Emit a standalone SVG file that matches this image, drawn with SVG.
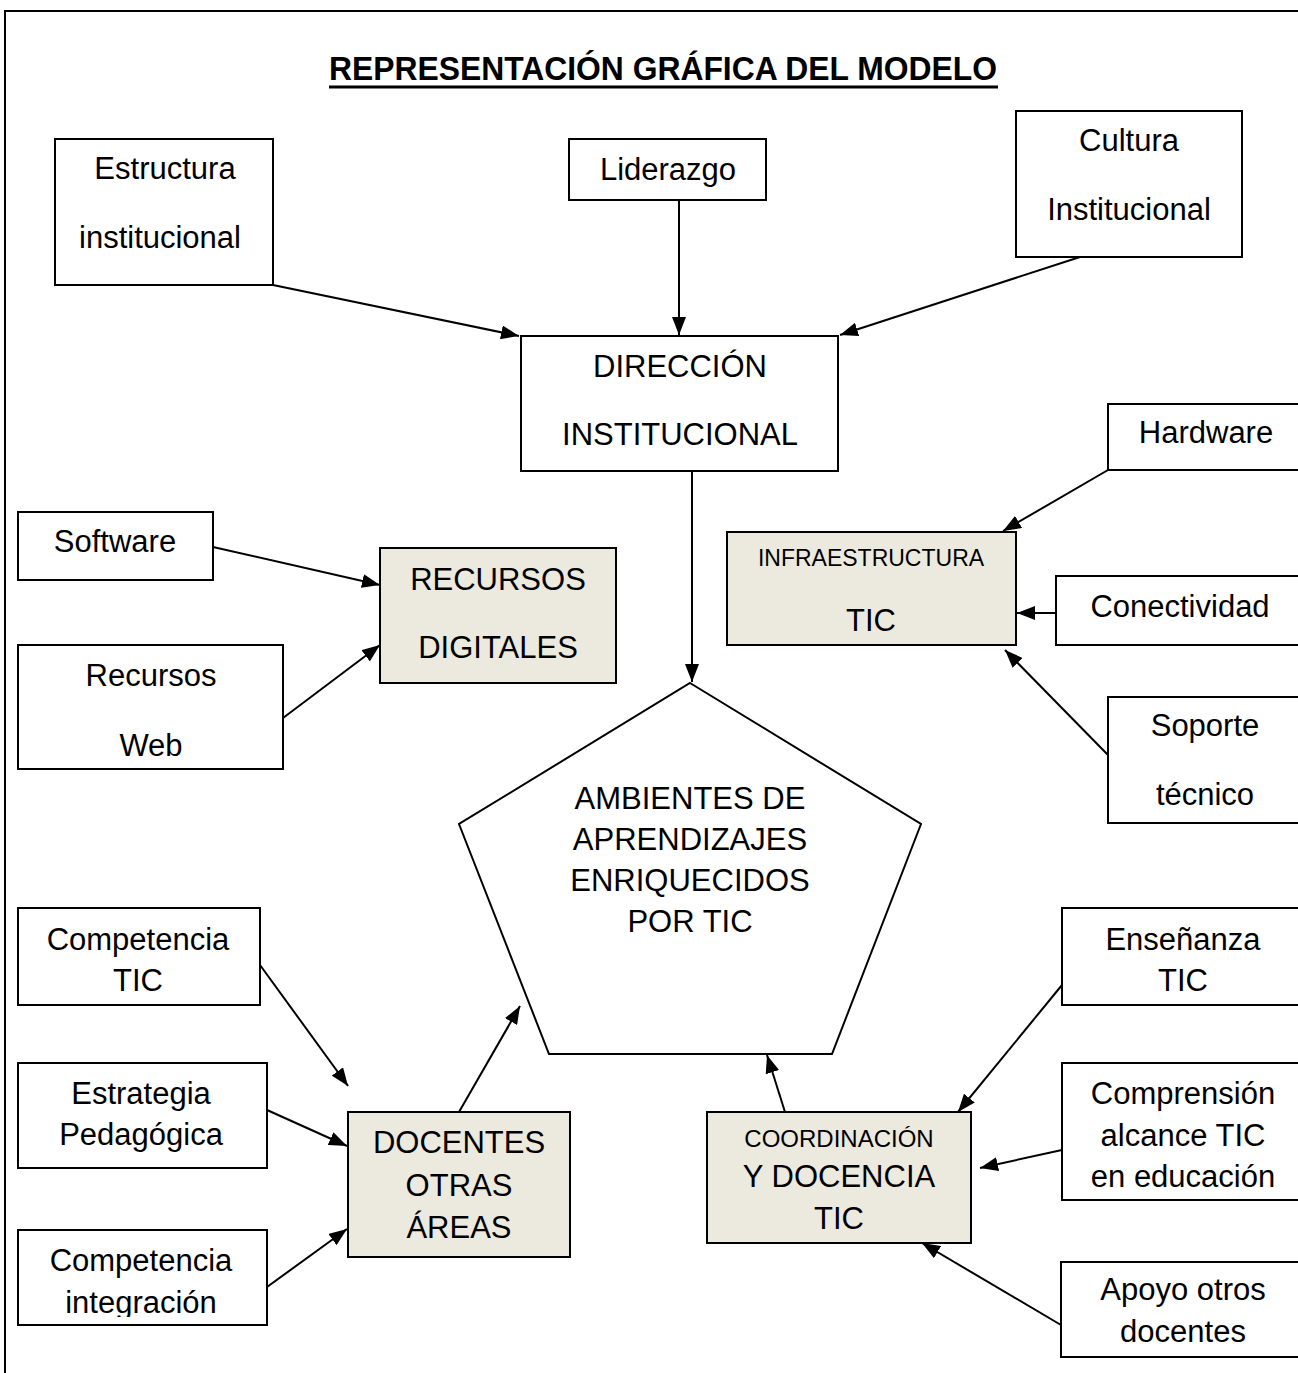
<svg xmlns="http://www.w3.org/2000/svg" width="1298" height="1373" viewBox="0 0 1298 1373">
<style>
.box{fill:#fff;stroke:#000;stroke-width:2}
.key{fill:#ECE9DF;stroke:#000;stroke-width:2}
.t{font-family:"Liberation Sans",Arial,sans-serif;font-size:31px;fill:#000;text-anchor:middle}
.s{font-size:23px}
.c{stroke:#000;stroke-width:2;fill:none;marker-end:url(#arr)}
</style>
<defs>
<marker id="arr" markerUnits="userSpaceOnUse" markerWidth="20" markerHeight="14" refX="18" refY="7" orient="auto">
<path d="M0,0 L18,7 L0,14 z" fill="#000"/>
</marker>
<clipPath id="clipInt"><rect x="18" y="1230" width="249" height="87"/></clipPath>
</defs>
<rect width="1298" height="1373" fill="#fff"/>
<g id="frame">
<path d="M5,1373 L5,11 L1298,11" fill="none" stroke="#000" stroke-width="2"/>
</g>
<g id="title">
<text x="663" y="80" class="t" style="font-weight:bold;font-size:33px" textLength="668" lengthAdjust="spacingAndGlyphs">REPRESENTACIÓN GRÁFICA DEL MODELO</text>
<line x1="329" y1="87" x2="998" y2="87" stroke="#000" stroke-width="3"/>
</g>
<g id="connectors">
<line class="c" x1="273" y1="285" x2="519" y2="336"/>
<line class="c" x1="679" y1="200" x2="679" y2="335"/>
<line class="c" x1="1080" y1="257" x2="840" y2="335"/>
<line class="c" x1="692" y1="471" x2="692" y2="682"/>
<line class="c" x1="213" y1="547" x2="380" y2="585"/>
<line class="c" x1="283" y1="718" x2="380" y2="645"/>
<line class="c" x1="1108" y1="470" x2="1003" y2="531"/>
<line class="c" x1="1056" y1="613" x2="1017" y2="613"/>
<line class="c" x1="1108" y1="755" x2="1005" y2="650"/>
<line class="c" x1="260" y1="965" x2="348" y2="1086"/>
<line class="c" x1="267" y1="1110" x2="347" y2="1146"/>
<line class="c" x1="267" y1="1287" x2="347" y2="1229"/>
<line class="c" x1="459" y1="1112" x2="520" y2="1006"/>
<line class="c" x1="785" y1="1112" x2="767" y2="1055"/>
<line class="c" x1="1062" y1="985" x2="958" y2="1112"/>
<line class="c" x1="1062" y1="1150" x2="980" y2="1168"/>
<line class="c" x1="1061" y1="1325" x2="922" y2="1243"/>
</g>
<g id="estructura">
<rect class="box" x="55" y="139" width="218" height="146"/>
<text class="t" x="165" y="179">Estructura</text>
<text class="t" x="160" y="248">institucional</text>
</g>
<g id="liderazgo">
<rect class="box" x="569" y="139" width="197" height="61"/>
<text class="t" x="668" y="180">Liderazgo</text>
</g>
<g id="cultura">
<rect class="box" x="1016" y="111" width="226" height="146"/>
<text class="t" x="1129" y="151">Cultura</text>
<text class="t" x="1129" y="220">Institucional</text>
</g>
<g id="direccion">
<rect class="box" x="521" y="336" width="317" height="135"/>
<text class="t" x="680" y="377">DIRECCIÓN</text>
<text class="t" x="680" y="445">INSTITUCIONAL</text>
</g>
<g id="hardware">
<rect class="box" x="1108" y="404" width="210" height="66"/>
<text class="t" x="1206" y="443">Hardware</text>
</g>
<g id="infraestructura">
<rect class="key" x="727" y="532" width="289" height="113"/>
<text class="t s" x="871" y="566">INFRAESTRUCTURA</text>
<text class="t" x="871" y="631">TIC</text>
</g>
<g id="conectividad">
<rect class="box" x="1056" y="576" width="262" height="69"/>
<text class="t" x="1180" y="617">Conectividad</text>
</g>
<g id="soporte">
<rect class="box" x="1108" y="697" width="210" height="126"/>
<text class="t" x="1205" y="736">Soporte</text>
<text class="t" x="1205" y="805">técnico</text>
</g>
<g id="software">
<rect class="box" x="18" y="512" width="195" height="68"/>
<text class="t" x="115" y="552">Software</text>
</g>
<g id="recursosweb">
<rect class="box" x="18" y="645" width="265" height="124"/>
<text class="t" x="151" y="686">Recursos</text>
<text class="t" x="151" y="756">Web</text>
</g>
<g id="recursosdigitales">
<rect class="key" x="380" y="548" width="236" height="135"/>
<text class="t" x="498" y="590">RECURSOS</text>
<text class="t" x="498" y="658">DIGITALES</text>
</g>
<g id="ambientes">
<polygon points="690,683 921,824 832,1054 549,1054 459,824" fill="#fff" stroke="#000" stroke-width="2"/>
<text class="t" x="690" y="809">AMBIENTES DE</text>
<text class="t" x="690" y="850">APRENDIZAJES</text>
<text class="t" x="690" y="891">ENRIQUECIDOS</text>
<text class="t" x="690" y="932">POR TIC</text>
</g>
<g id="competenciatic">
<rect class="box" x="18" y="908" width="242" height="97"/>
<text class="t" x="138" y="950">Competencia</text>
<text class="t" x="138" y="991">TIC</text>
</g>
<g id="estrategia">
<rect class="box" x="18" y="1063" width="249" height="105"/>
<text class="t" x="141" y="1104">Estrategia</text>
<text class="t" x="141" y="1145">Pedagógica</text>
</g>
<g id="competenciaintegracion">
<rect class="box" x="18" y="1230" width="249" height="95"/>
<g clip-path="url(#clipInt)">
<text class="t" x="141" y="1271">Competencia</text>
<text class="t" x="141" y="1313">integración</text>
</g>
</g>
<g id="docentes">
<rect class="key" x="348" y="1112" width="222" height="145"/>
<text class="t" x="459" y="1153">DOCENTES</text>
<text class="t" x="459" y="1196">OTRAS</text>
<text class="t" x="459" y="1238">ÁREAS</text>
</g>
<g id="ensenanza">
<rect class="box" x="1062" y="908" width="256" height="97"/>
<text class="t" x="1183" y="950">Enseñanza</text>
<text class="t" x="1183" y="991">TIC</text>
</g>
<g id="comprension">
<rect class="box" x="1062" y="1063" width="256" height="137"/>
<text class="t" x="1183" y="1104">Comprensión</text>
<text class="t" x="1183" y="1146">alcance TIC</text>
<text class="t" x="1183" y="1187">en educación</text>
</g>
<g id="coordinacion">
<rect class="key" x="707" y="1112" width="264" height="131"/>
<text class="t" x="839" y="1147" style="font-size:24px">COORDINACIÓN</text>
<text class="t" x="839" y="1187">Y DOCENCIA</text>
<text class="t" x="839" y="1229">TIC</text>
</g>
<g id="apoyo">
<rect class="box" x="1061" y="1262" width="257" height="95"/>
<text class="t" x="1183" y="1300">Apoyo otros</text>
<text class="t" x="1183" y="1342">docentes</text>
</g>
</svg>
